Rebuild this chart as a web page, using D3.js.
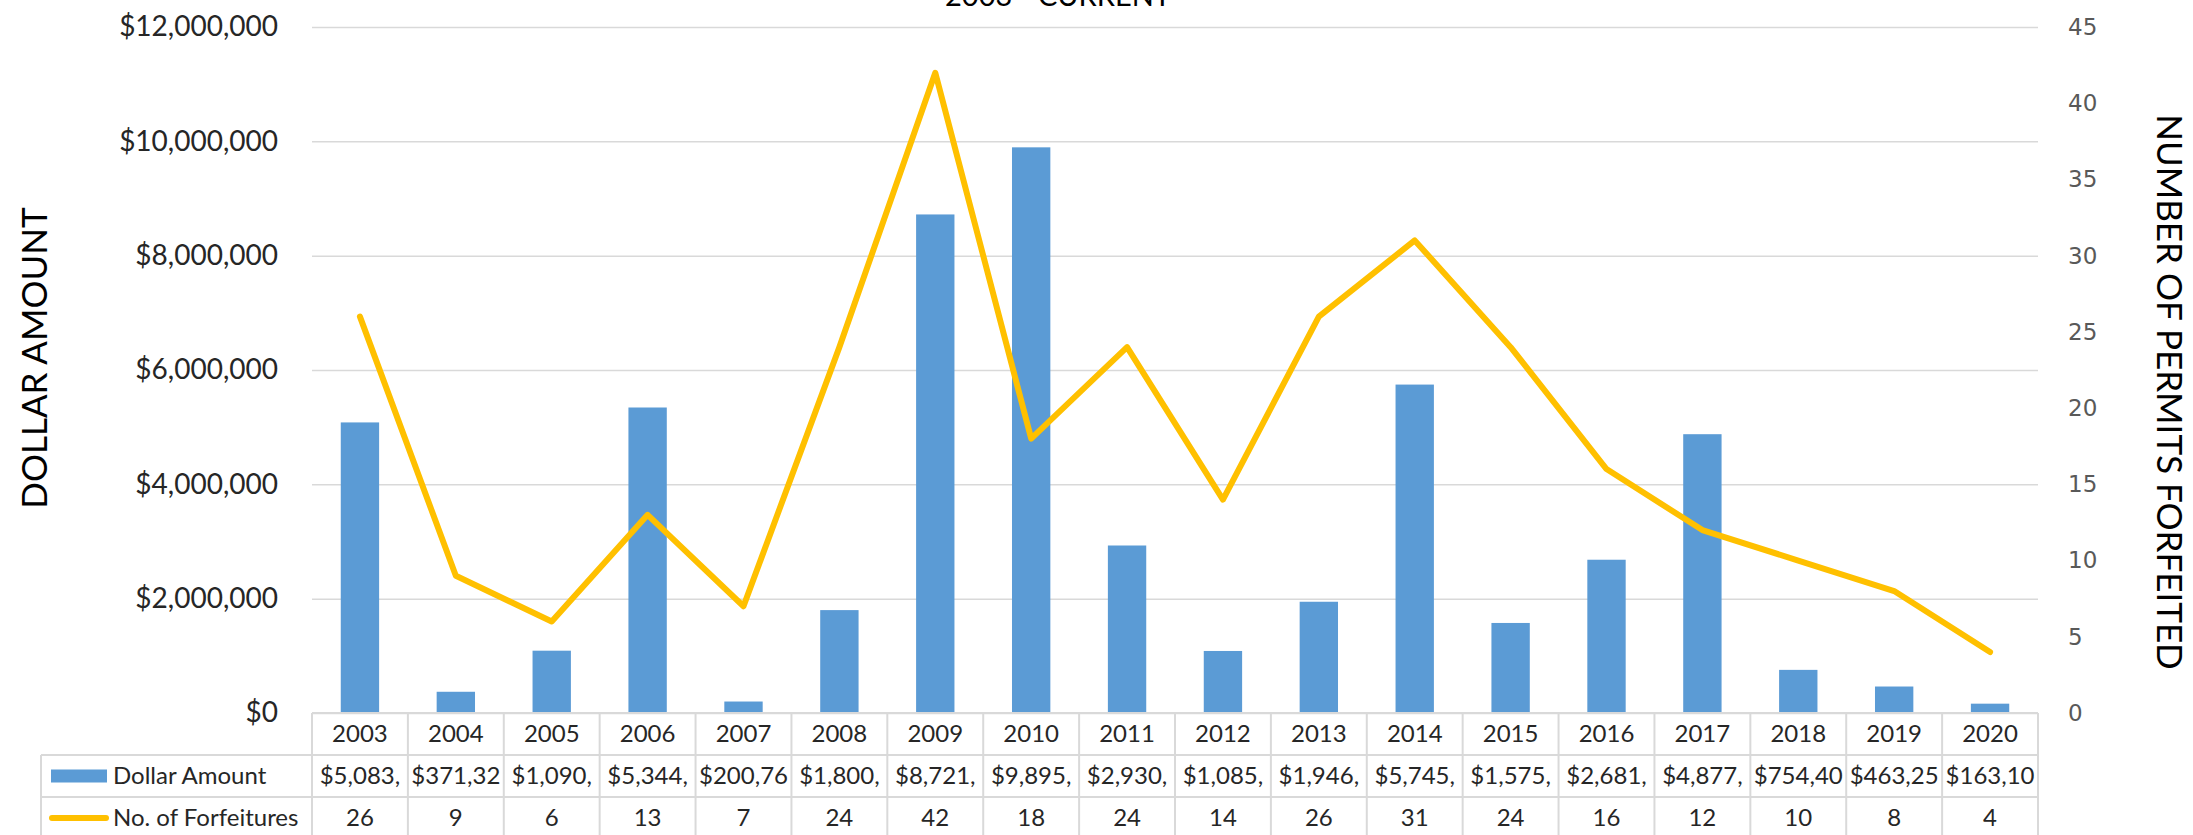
<!DOCTYPE html>
<html>
<head>
<meta charset="utf-8">
<script src="https://cdn.jsdelivr.net/npm/d3@7"></script>
<style>
    body { margin: 0; background: #fff; }
    text { font-family: Lato, "Open Sans", sans-serif; }
</style>
</head>
<body>
<div id="chart"></div>
<script>
// chart data
var years = ["2003", "2004", "2005", "2006", "2007", "2008", "2009", "2010", "2011",
             "2012", "2013", "2014", "2015", "2016", "2017", "2018", "2019", "2020"];
var dollarAmounts = [5083000, 371320, 1090000, 5344000, 200760, 1800000, 8721000, 9895000, 2930000,
                     1085000, 1946000, 5745000, 1575000, 2681000, 4877000, 754400, 463250, 163100];
var forfeitures = [26, 9, 6, 13, 7, 24, 42, 18, 24, 14, 26, 31, 24, 16, 12, 10, 8, 4];
var dollarTicks = [0, 2000000, 4000000, 6000000, 8000000, 10000000, 12000000];
var countTicks = [0, 5, 10, 15, 20, 25, 30, 35, 40, 45];
var seriesNames = ["Dollar Amount", "No. of Forfeitures"];

// set the dimensions and margins of the graph
var totalWidth = 2193, totalHeight = 835;
var margin = {top: 27, right: 155, bottom: 122, left: 312};
var width = totalWidth - margin.left - margin.right;
var height = totalHeight - margin.top - margin.bottom;
var rowHeight = 42;
var legendLeft = 41;

var barColor = "#5B9BD5";
var lineColor = "#FFC000";
var gridColor = "#D9D9D9";

var root = d3.select("#chart")
    .append("svg")
    .attr("width", totalWidth)
    .attr("height", totalHeight);

var svg = root.append("g")
    .attr("transform", "translate(" + margin.left + "," + margin.top + ")");

// scales
var x = d3.scaleBand()
    .domain(years)
    .range([0, width])
    .paddingInner(0.6)
    .paddingOuter(0.3);
var xCell = d3.scaleBand()
    .domain(years)
    .range([0, width]);
var yLeft = d3.scaleLinear()
    .domain([0, 12000000])
    .range([height, 0]);
var yRight = d3.scaleLinear()
    .domain([0, 45])
    .range([height, 0]);

// gridlines
svg.append("g")
    .attr("class", "grid")
    .call(d3.axisLeft(yLeft).tickValues(dollarTicks).tickSize(-width).tickFormat(""))
    .call(function(g) { g.select(".domain").remove(); })
    .selectAll("line")
    .attr("stroke", gridColor)
    .attr("stroke-width", 1.5);

// left axis labels
svg.append("g")
    .call(d3.axisLeft(yLeft)
        .tickValues(dollarTicks)
        .tickSize(0)
        .tickPadding(34)
        .tickFormat(function(d) { return "$" + d3.format(",")(d); }))
    .call(function(g) { g.select(".domain").remove(); })
    .selectAll("text")
    .style("font-family", "Lato")
    .style("font-size", "28px")
    .attr("fill", "#262626");

// right axis labels
svg.append("g")
    .attr("transform", "translate(" + width + ",0)")
    .call(d3.axisRight(yRight)
        .tickValues(countTicks)
        .tickSize(0)
        .tickPadding(30))
    .call(function(g) { g.select(".domain").remove(); })
    .selectAll("text")
    .style("font-family", "DejaVu Sans")
    .style("font-size", "23px")
    .attr("fill", "#595959");

// bars
svg.selectAll(".bar")
    .data(years)
    .enter()
    .append("rect")
    .attr("class", "bar")
    .attr("x", function(d) { return x(d); })
    .attr("width", x.bandwidth())
    .attr("y", function(d, i) { return yLeft(dollarAmounts[i]); })
    .attr("height", function(d, i) { return height - yLeft(dollarAmounts[i]); })
    .attr("fill", barColor);

// line
svg.append("path")
    .datum(forfeitures)
    .attr("fill", "none")
    .attr("stroke", lineColor)
    .attr("stroke-width", 6)
    .attr("stroke-linejoin", "round")
    .attr("stroke-linecap", "round")
    .attr("d", d3.line()
        .x(function(d, i) { return xCell(years[i]) + xCell.bandwidth() / 2; })
        .y(function(d) { return yRight(d); })
    );

// data table under the plot
var table = svg.append("g")
    .attr("transform", "translate(0," + height + ")");
var tableLeft = legendLeft - margin.left;

function hLine(x1, x2, yy) {
    table.append("line")
        .attr("x1", x1).attr("x2", x2)
        .attr("y1", yy).attr("y2", yy)
        .attr("stroke", gridColor)
        .attr("stroke-width", 2);
}
hLine(0, width, 0);
hLine(tableLeft, width, rowHeight);
hLine(tableLeft, width, rowHeight * 2);
hLine(tableLeft, width, rowHeight * 3);

// vertical cell borders
table.selectAll(".vline")
    .data(years.concat(["end"]))
    .enter()
    .append("line")
    .attr("class", "vline")
    .attr("x1", function(d, i) { return i * xCell.step(); })
    .attr("x2", function(d, i) { return i * xCell.step(); })
    .attr("y1", 0)
    .attr("y2", rowHeight * 3 + 2)
    .attr("stroke", gridColor)
    .attr("stroke-width", 2);
table.append("line")
    .attr("x1", tableLeft).attr("x2", tableLeft)
    .attr("y1", rowHeight).attr("y2", rowHeight * 3 + 2)
    .attr("stroke", gridColor)
    .attr("stroke-width", 2);

function cellText(cls, rowIndex, values, fmt) {
    return table.selectAll("." + cls)
        .data(values)
        .enter()
        .append("text")
        .attr("class", cls)
        .attr("x", function(d, i) { return xCell(years[i]) + xCell.bandwidth() / 2; })
        .attr("y", rowHeight * rowIndex + rowHeight / 2)
        .attr("dy", "0.35em")
        .attr("text-anchor", "middle")
        .style("font-size", "24px")
        .attr("fill", "#262626")
        .text(fmt);
}

cellText("year", 0, years, function(d) { return d; });
cellText("count", 2, forfeitures, function(d) { return d; });
// dollar cells get cut off like in the spreadsheet
cellText("dollar", 1, dollarAmounts, function(d) { return "$" + d3.format(",")(d); })
    .each(function() {
        var t = d3.select(this);
        var s = t.text();
        while (this.getComputedTextLength() > xCell.step() - 4 && s.length > 1) {
            s = s.slice(0, -1);
            t.text(s);
        }
    });

// legend keys in the table
table.append("rect")
    .attr("x", tableLeft + 10)
    .attr("y", rowHeight * 1.5 - 6.5)
    .attr("width", 56)
    .attr("height", 13)
    .attr("fill", barColor);
table.append("line")
    .attr("x1", tableLeft + 11).attr("x2", tableLeft + 65)
    .attr("y1", rowHeight * 2.5).attr("y2", rowHeight * 2.5)
    .attr("stroke", lineColor)
    .attr("stroke-width", 6)
    .attr("stroke-linecap", "round");
table.selectAll(".legendText")
    .data(seriesNames)
    .enter()
    .append("text")
    .attr("class", "legendText")
    .attr("x", tableLeft + 72)
    .attr("y", function(d, i) { return rowHeight * (i + 1.5); })
    .attr("dy", "0.35em")
    .style("font-size", "24px")
    .attr("fill", "#262626")
    .text(function(d) { return d; });

// axis titles
root.append("text")
    .attr("transform", "translate(47," + 358 + ") rotate(-90)")
    .attr("text-anchor", "middle")
    .style("font-size", "35px")
    .attr("fill", "#000")
    .text("DOLLAR AMOUNT");
root.append("text")
    .attr("transform", "translate(2157," + 392 + ") rotate(90)")
    .attr("text-anchor", "middle")
    .style("font-size", "35px")
    .attr("fill", "#000")
    .text("NUMBER OF PERMITS FORFEITED");

// chart title, top line is off the picture
root.append("text")
    .attr("x", 1058)
    .attr("y", 6)
    .attr("text-anchor", "middle")
    .style("font-size", "29px")
    .attr("fill", "#000")
    .text("2003 - CURRENT");
</script>
</body>
</html>
